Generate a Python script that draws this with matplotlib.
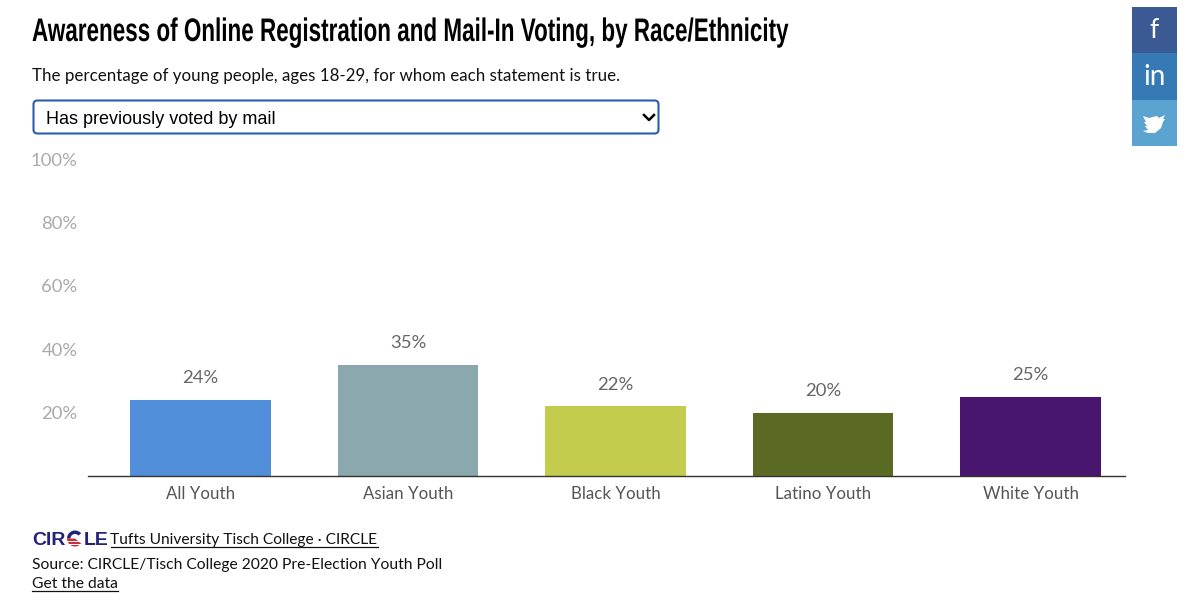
import matplotlib
matplotlib.use('Agg')
import matplotlib.pyplot as plt
from matplotlib.patches import Rectangle, FancyBboxPatch, Polygon, Wedge
from matplotlib.patheffects import AbstractPathEffect
from matplotlib.transforms import Affine2D

W = 1200
H = 614

categories = ['All Youth', 'Asian Youth', 'Black Youth', 'Latino Youth', 'White Youth']
values = [24, 35, 22, 20, 25]
bar_colors = ['#528fdb', '#8aa8ae', '#c3cc4c', '#5a6a24', '#48166f']
yticks = [20, 40, 60, 80, 100]
share_colors = ['#3b5a94', '#357ab5', '#5ba3d0']
share_labels = ['f', 'in']

body = 'Lato'


# no condensed font installed, so the bold one gets narrowed when drawn
class Squeeze(AbstractPathEffect):
    def __init__(self, x0, sx):
        super().__init__()
        self.x0 = x0
        self.sx = sx

    def draw_path(self, renderer, gc, tpath, affine, rgbFace=None):
        t = affine + Affine2D().translate(-self.x0, 0).scale(self.sx, 1).translate(self.x0, 0)
        renderer.draw_path(gc, tpath, t, rgbFace)


fig = plt.figure(figsize=(W / 100, H / 100), dpi=100)

# overlay in pixel coords (y down) for the page furniture
page = fig.add_axes([0, 0, 1, 1])
page.set_xlim(0, W)
page.set_ylim(H, 0)
page.axis('off')

ax = fig.add_axes([88 / W, 1 - 476 / H, 1037 / W, 317 / H])
ax.patch.set_alpha(0)
ax.bar(range(5), values, width=0.676, color=bar_colors)
ax.set_xlim(-0.542, 4.455)
ax.set_ylim(0, 100)
for s in ['top', 'left', 'right']:
    ax.spines[s].set_visible(False)
ax.spines['bottom'].set_color('#333333')
ax.spines['bottom'].set_linewidth(1)
ax.set_xticks(range(5))
ax.set_xticklabels(categories, fontsize=12.2, family=body, color='#555555')
ax.tick_params(axis='x', length=0, pad=7)
ax.set_yticks(yticks)
ax.set_yticklabels([str(t) + '%' for t in yticks], fontsize=13.3, family=body, color='#aaaaaa')
ax.tick_params(axis='y', length=0, pad=7.4)
for i, v in enumerate(values):
    ax.annotate(str(v) + '%', (i, v), xytext=(0, 9.8), textcoords='offset points',
                ha='center', va='bottom', fontsize=13.3, family=body, color='#666666')

# title and subtitle
page.text(32, 41, 'Awareness of Online Registration and Mail-In Voting, by Race/Ethnicity',
          family='Liberation Sans', weight='bold', fontsize=23.5, color='black',
          path_effects=[Squeeze(32, 0.688)])
page.text(32, 81, 'The percentage of young people, ages 18-29, for whom each statement is true.',
          family=body, fontsize=12.15, color='#111111')

# dropdown
page.add_patch(FancyBboxPatch((33.5, 100.5), 625, 33, boxstyle='round,pad=0,rounding_size=4',
                              fc='white', ec='#2a5db0', lw=1.5))
page.text(46, 119, 'Has previously voted by mail', family='Liberation Sans', fontsize=13,
          color='black', va='center')
page.plot([644, 649, 654], [115, 120, 115], color='black', lw=1.8)

# share buttons
for i, c in enumerate(share_colors):
    page.add_patch(Rectangle((1132, 7 + i * 46.3), 45, 46.3, fc=c, ec='none'))
page.text(1154.5, 31, share_labels[0], family=body, fontsize=19, color='white', ha='center', va='center')
page.text(1154.5, 77, share_labels[1], family=body, fontsize=20, color='white', ha='center', va='center')
bird = [(1143, 116), (1149, 118), (1153, 117), (1157, 116), (1159, 118), (1165, 115), (1163, 119),
        (1165, 119), (1163, 122), (1161, 128), (1155, 133), (1148, 133), (1143, 131), (1148, 130),
        (1145, 126), (1147, 126), (1144, 122), (1146, 122)]
page.add_patch(Polygon(bird, fc='white', ec='none'))

# logo
page.text(32, 545, 'CIR', family='Liberation Sans', weight='bold', fontsize=14, color='#23237e')
page.text(84, 545, 'LE', family='Liberation Sans', weight='bold', fontsize=14, color='#23237e')
page.add_patch(Wedge((75, 538.5), 8, 180, 320, width=3.5, fc='#23237e', ec='none'))
page.add_patch(Wedge((75, 538.5), 8, 40, 180, width=8, fc='#c2303a', ec='none'))
for yy in [541, 544]:
    page.plot([67, 83], [yy, yy], color='white', lw=0.7)

# footer
page.text(110.5, 544, 'Tufts University Tisch College \u00b7 CIRCLE', family=body, fontsize=11.2, color='#111111')
page.plot([110.5, 378], [546.5, 546.5], color='#111111', lw=0.9)
page.text(32, 569, 'Source: CIRCLE/Tisch College 2020 Pre-Election Youth Poll', family=body, fontsize=11.25, color='#111111')
page.text(32, 588, 'Get the data', family=body, fontsize=11.25, color='#111111')
page.plot([32, 118], [591, 591], color='#111111', lw=0.9)

fig.savefig('out.png', dpi=100)
